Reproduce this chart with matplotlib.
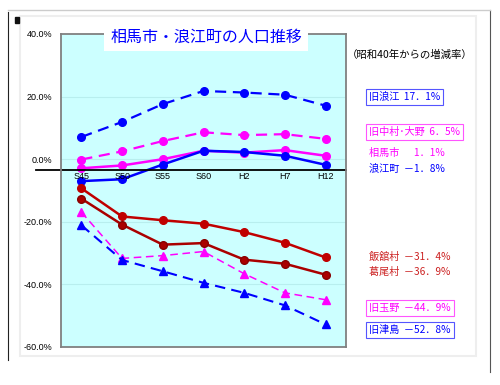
import matplotlib.pyplot as plt
from matplotlib.patches import Rectangle
from matplotlib.lines import Line2D

plt.rcParams['font.family'] = ['Noto Sans CJK JP', 'DejaVu Sans']

years = ["S45", "S50", "S55", "S60", "H2", "H7", "H12"]

# 昭和40年からの増減率 (%)
kyu_namie = [7.1, 11.9, 17.6, 21.8, 21.3, 20.6, 17.1]
kyu_nakamura = [-0.1, 2.5, 5.8, 8.6, 7.7, 8.0, 6.5]
soma = [-2.9, -2.0, 0.0, 2.7, 2.1, 2.9, 1.1]
namie = [-7.0, -6.4, -1.7, 2.7, 2.3, 1.1, -1.8]
iitate = [-9.3, -18.3, -19.5, -20.6, -23.3, -26.7, -31.4]
katsurao = [-12.6, -20.9, -27.3, -26.8, -32.1, -33.4, -36.9]
kyu_tamano = [-16.9, -31.7, -30.8, -29.5, -36.6, -42.7, -44.9]
kyu_tsushima = [-21.1, -32.2, -35.8, -39.5, -42.7, -46.7, -52.8]

labels = ["旧浪江  17．1%", "旧中村･大野  6．5%", "相馬市　  1．1%", "浪江町  －1．8%",
          "飯舘村  －31．4%", "葛尾村  －36．9%", "旧玉野  －44．9%", "旧津島  －52．8%"]

BLUE = "#0000ff"
MAG = "#ff00ff"
RED = "#c00000"
DRED = "#aa0000"

fig = plt.figure(figsize=(5.0, 3.85), dpi=100)
fig.patch.set_facecolor("white")

# screenshot frame
fig.add_artist(Rectangle((20 / 500, 1 - 356 / 385), 456 / 500, 340 / 385, transform=fig.transFigure,
                         fill=False, ec="#eeeeee", lw=1.5))
fig.add_artist(Line2D([8 / 500, 8 / 500], [1 - 12 / 385, 1 - 360 / 385], transform=fig.transFigure, color="#222222", lw=0.8))
fig.add_artist(Line2D([490 / 500, 490 / 500], [1 - 10 / 385, 1 - 372 / 385], transform=fig.transFigure, color="#555555", lw=0.8))
fig.add_artist(Line2D([8 / 500, 490 / 500], [1 - 10 / 385, 1 - 10 / 385], transform=fig.transFigure, color="#cccccc", lw=1))
fig.add_artist(Rectangle((15 / 500, 1 - 23 / 385), 4 / 500, 6 / 385, transform=fig.transFigure, color="#111111"))

ax = fig.add_axes([61 / 500, 1 - 347 / 385, 285 / 500, 313 / 385])
ax.set_facecolor("#ccffff")
x = list(range(len(years)))

ax.plot(x, kyu_namie, color=BLUE, ls=(0, (5, 3)), lw=1.6, marker="o", ms=5.5)
ax.plot(x, kyu_nakamura, color=MAG, ls=(0, (5, 3)), lw=1.6, marker="o", ms=5.5)
ax.plot(x, soma, color=MAG, lw=1.8, marker="o", ms=5.5)
ax.plot(x, namie, color=BLUE, lw=1.8, marker="o", ms=5.5)
ax.plot(x, iitate, color=RED, lw=1.8, marker="o", ms=5.5)
ax.plot(x, katsurao, color=DRED, lw=1.8, marker="o", ms=5.5, mec="#880000")
ax.plot(x, kyu_tamano, color=MAG, ls=(0, (5, 3)), lw=1.1, marker="^", ms=5.5)
ax.plot(x, kyu_tsushima, color=BLUE, ls=(0, (5, 3)), lw=1.5, marker="^", ms=5.5)

ax.set_xlim(-0.5, len(years) - 0.5)
ax.set_ylim(-60, 40)
ax.set_yticks([40, 20, 0, -20, -40, -60])
ax.set_yticklabels(["40.0%", "20.0%", "0.0%", "-20.0%", "-40.0%", "-60.0%"], fontsize=6.5,
                   family=["Liberation Sans Narrow", "Liberation Sans"])
for yv in [20, 0, -20, -40]:
    ax.axhline(yv, color="#b8eeee", lw=0.8, zorder=0)
ax.tick_params(axis="y", length=0, pad=6)
ax.set_xticks([])
for i, yr in enumerate(years):
    ax.text(i, -4.0, yr, ha="center", va="top", fontsize=6.5, family=["Liberation Sans Narrow", "Liberation Sans"])
ax.axhline(-3.5, xmin=-0.088, xmax=1.0, color="black", lw=1.3, clip_on=False)

for s in ["left", "bottom", "right", "top"]:
    ax.spines[s].set_color("#808080")
    ax.spines[s].set_linewidth(1.3)

fig.text(206 / 500, 1 - 37 / 385, "相馬市・浪江町の人口推移", color=BLUE, fontsize=11.5, ha="center", va="center",
         bbox=dict(fc="white", ec="none", boxstyle="square,pad=0.35"))
fig.text(410 / 500, 1 - 55 / 385, "（昭和40年からの増減率）", fontsize=7.5, ha="center", va="center")

# legend texts: (text, color, y, boxed)
entries = [(labels[0], BLUE, 97, True), (labels[1], MAG, 132, True), (labels[2], MAG, 153, False),
           (labels[3], BLUE, 169, False), (labels[4], "#cc2222", 257, False), (labels[5], "#cc2222", 272, False),
           (labels[6], MAG, 308, True), (labels[7], BLUE, 330, True)]
edge = {BLUE: "#5555ff", MAG: "#ff55ff"}
for txt, col, yy, boxed in entries:
    kw = dict(bbox=dict(fc="white", ec=edge[col], lw=0.8, pad=2.2)) if boxed else {}
    fig.text(369 / 500, 1 - yy / 385, txt, color=col, fontsize=7.3, ha="left", va="center", **kw)

fig.savefig("out.png", dpi=100)
